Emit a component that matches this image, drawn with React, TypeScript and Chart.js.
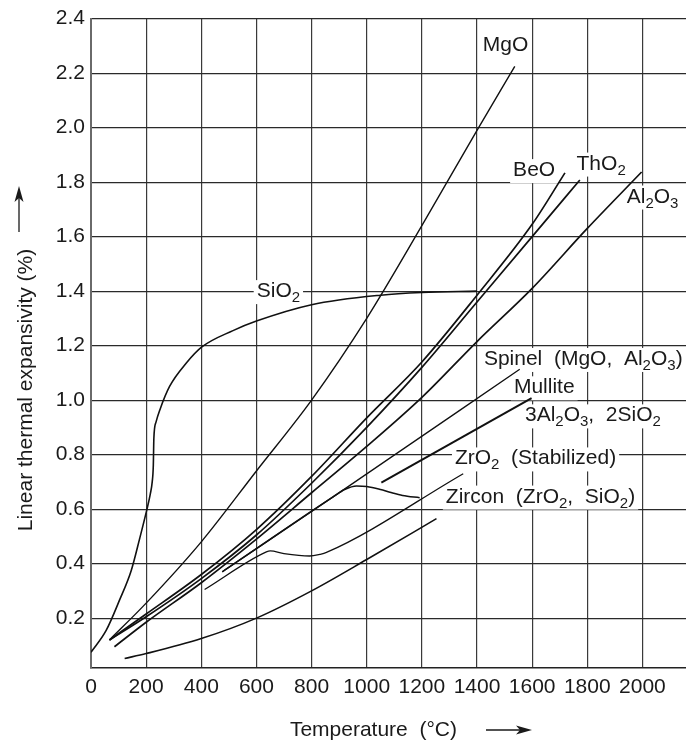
import React, { useEffect, useRef } from "react";
import { Chart, registerables } from "chart.js";

Chart.register(...registerables);

const FONT = "'Liberation Sans', Arial, Helvetica, sans-serif";
const TEXT = "#1a1a1a";

// Axis ticks
const xTicks = [0, 200, 400, 600, 800, 1000, 1200, 1400, 1600, 1800, 2000];
const yTicks = [0.2, 0.4, 0.6, 0.8, 1.0, 1.2, 1.4, 1.6, 1.8, 2.0, 2.2, 2.4];

// Series (temperature °C, linear expansion %)
const sio2T = [0, 55, 103, 146, 176, 203, 215, 222, 226, 228, 236, 250, 285, 345, 402, 515, 600, 800, 1050, 1200, 1400];
const sio2V = [0.075, 0.155, 0.265, 0.375, 0.49, 0.6, 0.655, 0.7, 0.76, 0.86, 0.92, 0.965, 1.05, 1.135, 1.195, 1.255, 1.29, 1.35, 1.385, 1.395, 1.4];

const mgoT = [67, 200, 400, 600, 800, 1000, 1200, 1400, 1537];
const mgoV = [0.12, 0.255, 0.48, 0.74, 1.0, 1.3, 1.64, 1.99, 2.225];

const beoT = [67, 200, 400, 600, 800, 1000, 1200, 1400, 1600, 1719];
const beoV = [0.12, 0.215, 0.36, 0.525, 0.72, 0.935, 1.14, 1.385, 1.645, 1.834];

const tho2T = [67, 200, 400, 600, 800, 1000, 1200, 1400, 1600, 1773];
const tho2V = [0.12, 0.205, 0.345, 0.505, 0.695, 0.9, 1.12, 1.36, 1.6, 1.808];

const al2o3T = [85, 200, 400, 600, 800, 1000, 1200, 1400, 1600, 1800, 1997];
const al2o3V = [0.095, 0.185, 0.33, 0.49, 0.66, 0.83, 1.01, 1.215, 1.41, 1.63, 1.837];

const spinelT = [476, 878, 1555];
const spinelV = [0.37, 0.645, 1.113];

const zro2T = [476, 878, 920, 963, 1000, 1050, 1084, 1130, 1192];
const zro2V = [0.37, 0.645, 0.672, 0.685, 0.683, 0.672, 0.662, 0.65, 0.642];

const zirconT = [412, 636, 650, 700, 793, 830, 854, 1350];
const zirconV = [0.305, 0.443, 0.447, 0.437, 0.428, 0.434, 0.441, 0.73];

const mulliteT = [1053, 1598];
const mulliteV = [0.697, 1.007];

const lowT = [122, 200, 400, 600, 800, 1000, 1253];
const lowV = [0.052, 0.07, 0.125, 0.2, 0.3, 0.415, 0.565];

const seriesNames = ["SiO2", "MgO", "BeO", "ThO2", "Al2O3", "Spinel", "ZrO2", "Zircon", "Mullite", "Lower"];
const seriesT = [sio2T, mgoT, beoT, tho2T, al2o3T, spinelT, zro2T, zirconT, mulliteT, lowT];
const seriesV = [sio2V, mgoV, beoV, tho2V, al2o3V, spinelV, zro2V, zirconV, mulliteV, lowV];
const seriesWidth = [1.6, 1.4, 1.7, 1.7, 1.7, 1.3, 1.6, 1.3, 2.0, 1.6];

// Label texts: [text, isSubscript]
type Seg = [string, boolean];
const labelSegs: Seg[][] = [
  [["MgO", false]],
  [["BeO", false]],
  [["ThO", false], ["2", true]],
  [["Al", false], ["2", true], ["O", false], ["3", true]],
  [["SiO", false], ["2", true]],
  [["Spinel  (MgO,  Al", false], ["2", true], ["O", false], ["3", true], [")", false]],
  [["Mullite", false]],
  [["3Al", false], ["2", true], ["O", false], ["3", true], [",  2SiO", false], ["2", true]],
  [["ZrO", false], ["2", true], ["  (Stabilized)", false]],
  [["Zircon  (ZrO", false], ["2", true], [",  SiO", false], ["2", true], [")", false]],
];
const labelX = [1421, 1531, 1761, 1943, 601, 1425, 1534, 1574, 1320, 1287];
const labelY = [2.28, 1.822, 1.846, 1.725, 1.378, 1.129, 1.025, 0.922, 0.764, 0.624];

const xTitle = "Temperature  (°C)";
const yTitle = "Linear thermal expansivity (%)";

const MAIN = `21px ${FONT}`;
const SUB = `15px ${FONT}`;

function measureLabel(ctx: CanvasRenderingContext2D, segs: Seg[]) {
  let w = 0;
  const parts = segs.map(([t, sub]) => {
    ctx.font = sub ? SUB : MAIN;
    const mw = ctx.measureText(t).width;
    const p = { t, sub, off: w };
    w += mw;
    return p;
  });
  return { parts, w };
}

function arrowHead(ctx: CanvasRenderingContext2D, tx: number, ty: number, dx: number, dy: number) {
  const len = 16, half = 4.5, notch = 4;
  const bx = tx - dx * len, by = ty - dy * len;
  const px = -dy, py = dx;
  ctx.beginPath();
  ctx.moveTo(tx, ty);
  ctx.lineTo(bx + px * half, by + py * half);
  ctx.lineTo(bx + dx * notch, by + dy * notch);
  ctx.lineTo(bx - px * half, by - py * half);
  ctx.closePath();
  ctx.fill();
}

const annotPlugin = {
  id: "annot",
  beforeDatasetsDraw(chart: any) {
    const { ctx, scales } = chart;
    ctx.save();
    ctx.fillStyle = "#ffffff";
    labelSegs.forEach((segs, i) => {
      const px = scales.x.getPixelForValue(labelX[i]);
      const py = scales.y.getPixelForValue(labelY[i]);
      const { w } = measureLabel(ctx, segs);
      ctx.fillRect(px - 3, py - 17, w + 6, 24);
    });
    ctx.restore();
  },
  afterDatasetsDraw(chart: any) {
    const { ctx, scales } = chart;
    ctx.save();
    ctx.fillStyle = TEXT;
    ctx.textAlign = "left";
    ctx.textBaseline = "alphabetic";
    labelSegs.forEach((segs, i) => {
      const px = scales.x.getPixelForValue(labelX[i]);
      const py = scales.y.getPixelForValue(labelY[i]);
      const { parts } = measureLabel(ctx, segs);
      parts.forEach((p) => {
        ctx.font = p.sub ? SUB : MAIN;
        ctx.fillText(p.t, px + p.off, py + (p.sub ? 5 : 0));
      });
    });

    // Axis titles
    ctx.font = MAIN;
    ctx.textAlign = "right";
    ctx.fillText(xTitle, 457, 736);
    ctx.save();
    ctx.translate(32, 390);
    ctx.rotate(-Math.PI / 2);
    ctx.textAlign = "center";
    ctx.fillText(yTitle, 0, 0);
    ctx.restore();

    // Arrows
    ctx.strokeStyle = TEXT;
    ctx.lineWidth = 1.3;
    ctx.beginPath();
    ctx.moveTo(19, 232);
    ctx.lineTo(19, 196);
    ctx.moveTo(486, 730);
    ctx.lineTo(522, 730);
    ctx.stroke();
    arrowHead(ctx, 19, 186, 0, -1);
    arrowHead(ctx, 532, 730, 1, 0);
    ctx.restore();
  },
};

export default function App() {
  const ref = useRef<HTMLCanvasElement | null>(null);

  useEffect(() => {
    if (!ref.current) return;
    const datasets = seriesNames.map((name, i) => ({
      label: name,
      data: seriesT[i].map((t, j) => ({ x: t, y: seriesV[i][j] })),
      borderColor: "#111111",
      borderWidth: seriesWidth[i],
      pointRadius: 0,
      fill: false,
      cubicInterpolationMode: "monotone" as const,
    }));

    const chart = new Chart(ref.current, {
      type: "line",
      data: { datasets },
      options: {
        animation: false,
        responsive: false,
        layout: { padding: { top: 15, left: 0, right: 0, bottom: 0 } },
        plugins: { legend: { display: false }, tooltip: { enabled: false } },
        scales: {
          x: {
            type: "linear",
            min: 0,
            max: 2158,
            afterBuildTicks: (s: any) => {
              s.ticks = xTicks.map((value) => ({ value }));
            },
            afterFit: (s: any) => {
              s.height = 72;
            },
            ticks: {
              font: { size: 21, family: FONT },
              color: TEXT,
              padding: 7,
              maxRotation: 0,
              autoSkip: false,
              callback: (v: any) => String(v),
            },
            grid: { color: "#3a3a3a", lineWidth: 1.2, drawTicks: false },
            border: { color: "#222222", width: 1.6 },
          },
          y: {
            type: "linear",
            min: 0.017,
            max: 2.4,
            afterBuildTicks: (s: any) => {
              s.ticks = yTicks.map((value) => ({ value }));
            },
            afterFit: (s: any) => {
              s.width = 91;
            },
            ticks: {
              font: { size: 21, family: FONT },
              color: TEXT,
              padding: 6,
              autoSkip: false,
              callback: (v: any) => Number(v).toFixed(1),
            },
            grid: { color: "#2a2a2a", lineWidth: 1.2, drawTicks: false },
            border: { color: "#6a6a6a", width: 2 },
          },
        },
      },
      plugins: [annotPlugin],
    });
    return () => chart.destroy();
  }, []);

  return (
    <div style={{ position: "absolute", left: 0, top: 0, width: 686, height: 740, background: "#fff" }}>
      <canvas ref={ref} width={686} height={740} style={{ display: "block" }} />
    </div>
  );
}
